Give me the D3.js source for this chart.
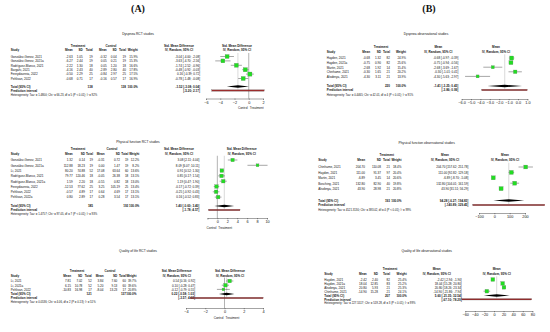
<!DOCTYPE html>
<html>
<head>
<meta charset="utf-8">
<script src="https://cdn.jsdelivr.net/npm/d3@7"></script>
<style>
body { margin: 0; background: #fff; }
svg text { font-family: "Liberation Sans", Arial, sans-serif; fill: #111; }
</style>
</head>
<body>
<div id="chart"></div>
<script>
/* global d3 */

// ---- Dyspnea RCT studies (A, top)
const dysRctStudy = ['González-Genez, 2021', 'González-Genez, 2021a', 'Rodríguez-Blanco, 2021', 'Bargahi, 2021', 'Fereydounnia, 2022', 'Pehlivan, 2022']
const dysRctTrtMean = [-2.63, -6.27, -2.22, -4.16, -0.50, -0.68]
const dysRctTrtSd = [1.05, 2.44, 1.30, 2.43, 2.29, 0.71]
const dysRctTrtN = [19, 19, 18, 40, 25, 17]
const dysRctCtlMean = [-0.32, 0.05, 0.05, -2.89, -0.84, -0.16]
const dysRctCtlSd = [0.04, 0.21, 1.20, 2.80, 2.97, 0.57]
const dysRctCtlN = [19, 19, 18, 40, 25, 17]
const dysRctWeight = [15.9, 15.3, 16.6, 17.8, 17.5, 16.9]
const dysRctEst = [-3.04, -3.63, -1.74, -0.48, 0.16, -0.78]
const dysRctLo = [-4.00, -4.70, -2.52, -0.92, -0.39, -1.48]
const dysRctHi = [-2.08, -2.56, -0.96, -0.03, 0.72, -0.08]
const dysRctTotal = [-1.52, -3.08, 0.04]
const dysRctPred = [-5.20, 2.17]
const dysRctHet = 'Heterogeneity: Tau² = 1.4800; Chi² = 66.23, df = 5 (P < 0.01); I² = 92%'
const dysRctTicks = [-6, -4, -2, 0, 2]

// ---- Physical function RCT studies (A, middle)
const pfRctStudy = ['González-Genez, 2021', 'González-Genez, 2021a', 'Li, 2021', 'Rodríguez-Blanco, 2021', 'Rodríguez-Blanco, 2021a', 'Fereydounnia, 2022', 'Pehlivan, 2022', 'Pehlivan, 2022a']
const pfRctTrtMean = [1.32, 112.88, 80.20, 79.77, 1.59, -12.53, -0.57, 0.80]
const pfRctTrtSd = [0.14, 18.23, 74.88, 120.46, 2.20, 77.62, 4.89, 2.89]
const pfRctTrtN = [19, 19, 52, 18, 18, 25, 17, 17]
const pfRctCtlMean = [-0.31, 0.00, 17.08, -0.05, -0.55, 3.25, 0.64, 0.28]
const pfRctCtlSd = [0.72, 1.47, 63.64, 26.38, 0.82, 105.19, 4.69, 3.54]
const pfRctCtlN = [19, 19, 60, 18, 18, 25, 17, 17]
const pfRctWeight = [12.2, 8.2, 13.6, 13.1, 13.0, 13.4, 13.1, 13.1]
const pfRctEst = [3.08, 8.09, 0.91, 0.85, 1.19, -0.17, -0.25, 0.16]
const pfRctLo = [2.11, 6.07, 0.52, 0.17, 0.47, -0.72, -0.92, -0.52]
const pfRctHi = [4.04, 10.11, 1.30, 1.54, 1.90, 0.39, 0.43, 0.83]
const pfRctTotal = [1.40, -0.60, 3.40]
const pfRctPred = [-1.78, 4.57]
const pfRctHet = 'Heterogeneity: Tau² = 1.4757; Chi² = 97.05, df = 7 (P < 0.01); I² = 93%'
const pfRctTicks = [-2, 0, 2, 4, 6, 8, 10]

// ---- Quality of life RCT studies (A, bottom)
const qolRctStudy = ['Li, 2021', 'Li, 2021a', 'Pehlivan, 2022']
const qolRctTrtMean = [7.81, 6.15, -10.83]
const qolRctTrtSd = [7.02, 10.78, 16.98]
const qolRctTrtN = [52, 52, 17]
const qolRctCtlMean = [3.84, 5.20, -8.04]
const qolRctCtlSd = [7.60, 9.13, 13.23]
const qolRctCtlN = [60, 60, 17]
const qolRctWeight = [39.7, 39.6, 20.8]
const qolRctEst = [0.54, 0.10, -0.12]
const qolRctLo = [0.16, -0.28, -0.79]
const qolRctHi = [0.92, 0.47, 0.55]
const qolRctTotal = [0.22, -0.58, 1.03]
const qolRctPred = [-3.57, 4.02]
const qolRctHet = 'Heterogeneity: Tau² = 0.0536; Chi² = 4.06, df = 2 (P = 0.13); I² = 51%'
const qolRctTicks = [-4, -2, 0, 2, 4]

// ---- Dyspnea observational studies (B, top)
const dysObsStudy = ['Hayden, 2021', 'Hayden, 2021a', 'Martin, 2021', 'Chinhame, 2021', 'Alsobnya, 2021']
const dysObsMean = [-0.68, -0.75, -2.68, -0.30, -4.30]
const dysObsSd = [1.32, 0.90, 1.92, 1.65, 3.11]
const dysObsN = [82, 82, 14, 21, 21]
const dysObsWeight = [24.9, 25.6, 15.4, 20.2, 13.9]
const dysObsLo = [-0.97, -0.94, -3.69, -1.01, -5.63]
const dysObsHi = [-0.39, -0.56, -1.67, 0.41, -2.97]
const dysObsTotal = [-1.41, -3.25, 0.43]
const dysObsPred = [-3.86, 0.99]
const dysObsHet = 'Heterogeneity: Tau² = 0.4465; Chi² = 42.01, df = 4 (P < 0.01); I² = 91%'
const dysObsTicks = [-6, -5, -4, -3, -2, -1, 0, 1]

// ---- Physical function observational studies (B, middle)
const pfObsStudy = ['Chinhame, 2021', 'Hayden, 2021', 'Martin, 2021', 'Bosching, 2021', 'Alsobnya, 2021']
const pfObsMean = [204.70, 111.00, -6.89, 132.80, 43.90]
const pfObsSd = [110.08, 91.37, 3.45, 82.90, 28.98]
const pfObsN = [21, 97, 14, 40, 21]
const pfObsWeight = [18.4, 20.4, 20.6, 19.8, 20.8]
const pfObsLo = [157.62, 92.82, -8.70, 104.01, 31.51]
const pfObsHi = [251.78, 129.18, -5.08, 161.59, 56.29]
const pfObsTotal = [94.28, -6.27, 194.83]
const pfObsPred = [-140.89, 329.45]
const pfObsHet = 'Heterogeneity: Tau² = 4521.3130; Chi² = 383.02, df = 4 (P < 0.01); I² = 99%'
const pfObsTicks = [-100, 0, 100, 200]

// ---- Quality of life observational studies (B, bottom)
const qolObsStudy = ['Hayden, 2021', 'Hayden, 2021a', 'Alsobnya, 2021', 'Chinhame, 2021']
const qolObsMean = [-2.42, 18.04, 20.80, -14.90]
const qolObsSd = [2.40, 12.85, 5.93, 15.28]
const qolObsN = [82, 83, 21, 21]
const qolObsWeight = [25.4, 25.2, 25.3, 24.1]
const qolObsLo = [-2.94, 15.28, 18.26, -21.86]
const qolObsHi = [-1.90, 20.80, 23.34, -7.94]
const qolObsTotal = [5.60, -21.35, 32.54]
const qolObsPred = [-67.10, 78.29]
const qolObsHet = 'Heterogeneity: Tau² = 227.5517; Chi² = 519.28, df = 3 (P < 0.01); I² = 99%'
const qolObsTicks = [-60, -40, -20, 0, 20, 40, 60, 80]

const width = 550, height = 332
const sx = 0.8   // the R output was squeezed sideways

const svg = d3.select('#chart')
  .append('svg')
  .attr('width', width)
  .attr('height', height)

const f2 = v => v.toFixed(2)
const pct = v => v.toFixed(1) + '%'
const ciText = (m, l, h) => `${f2(m)} [${f2(l)}; ${f2(h)}]`

// panel letters
svg.append('text').attr('x', 138).attr('y', 12).attr('text-anchor', 'middle')
  .style('font-family', '"Liberation Serif", "Times New Roman", serif')
  .style('font-weight', 'bold').style('font-size', '10px').text('(A)')
svg.append('text').attr('x', 429).attr('y', 12).attr('text-anchor', 'middle')
  .style('font-family', '"Liberation Serif", "Times New Roman", serif')
  .style('font-weight', 'bold').style('font-size', '10px').text('(B)')

// one forest plot with its table
let forest = (p) => {
  const g = svg.append('g')
  const n = p.est.length
  const y = d3.scalePoint().domain(d3.range(n)).range([p.rowY0, p.rowY0 + p.rowStep * (n - 1)])
  const x = d3.scaleLinear().domain(p.domain).range(p.range)
  const fs = p.fs

  const txt = (tx, ty, s, anchor, bold, size) => g.append('text')
    .attr('transform', `translate(${tx},${ty}) scale(${sx},1)`)
    .attr('text-anchor', anchor || 'start')
    .style('font-size', (size || fs) + 'px')
    .style('font-weight', bold ? 'bold' : 'normal')
    .text(s)

  txt(p.titleX, p.titleY, p.title, 'middle', false, fs + 0.3)

  p.groups.forEach(h => txt(h.x, p.hdr1Y, h.text, 'middle', true))
  txt(p.plotHdrX, p.hdr1Y, p.plotHdr, 'middle', true)
  txt(p.plotHdrX, p.hdr2Y, 'IV, Random, 95% CI', 'middle', true)

  p.cols.forEach(c => {
    txt(c.hx !== undefined ? c.hx : c.x, p.hdr2Y, c.head, c.hx !== undefined ? 'middle' : c.anchor, true)
    c.vals.forEach((v, i) => txt(c.x, y(i) + fs * 0.35, v, c.anchor))
    if (c.total !== undefined) txt(c.x, p.totY + fs * 0.35, c.total, c.anchor, true)
    if (c.pred !== undefined) txt(c.x, p.predY + fs * 0.35, c.pred, c.anchor, true)
  })
  txt(p.cols[0].x, p.hetY + fs * 0.35, p.het, 'start', false, fs - 0.3)

  // reference line and summary line
  if (p.nullLine) {
    g.append('line').attr('x1', x(0)).attr('x2', x(0))
      .attr('y1', p.rowY0 - p.rowStep * 0.8).attr('y2', p.axisY)
      .attr('stroke', '#555').attr('stroke-width', 0.45)
  }
  g.append('line').attr('x1', x(p.total[0])).attr('x2', x(p.total[0]))
    .attr('y1', p.rowY0 - p.rowStep * 0.8).attr('y2', p.predY - 1)
    .attr('stroke', '#aaa').attr('stroke-width', 0.45)

  // confidence intervals
  g.selectAll('.ci').data(d3.range(n)).enter().append('line')
    .attr('x1', i => x(p.lo[i])).attr('x2', i => x(p.hi[i]))
    .attr('y1', i => y(i)).attr('y2', i => y(i))
    .attr('stroke', '#222').attr('stroke-width', 0.4)

  // squares sized by weight
  const side = i => p.sq * Math.sqrt(p.weight[i])
  g.selectAll('.sq').data(d3.range(n)).enter().append('rect')
    .attr('x', i => x(p.est[i]) - side(i) / 2)
    .attr('y', i => y(i) - side(i) / 2)
    .attr('width', side)
    .attr('height', side)
    .attr('fill', '#22dd22').attr('stroke', '#777').attr('stroke-width', 0.25)

  // summary diamond
  const t = p.total
  g.append('path')
    .attr('d', `M${x(t[1])},${p.totY}L${x(t[0])},${p.totY - 1.2}L${x(t[2])},${p.totY}L${x(t[0])},${p.totY + 1.2}Z`)
    .attr('fill', '#000')

  // prediction interval
  g.append('rect')
    .attr('x', x(p.pred[0])).attr('y', p.predY - 0.7)
    .attr('width', x(p.pred[1]) - x(p.pred[0])).attr('height', 1.4)
    .attr('fill', '#9b2d2d').attr('stroke', '#333').attr('stroke-width', 0.2)

  // axis
  const axis = g.append('g')
    .attr('transform', `translate(0,${p.axisY})`)
    .call(d3.axisBottom(x).tickValues(p.ticks).tickSize(1.3).tickPadding(1.2))
  axis.selectAll('path, line').attr('stroke', '#333').attr('stroke-width', 0.45)
  axis.selectAll('text').style('font-size', fs + 'px').attr('fill', '#111')
    .style('font-family', '"Liberation Sans", Arial, sans-serif')
  if (p.hideTick !== undefined) {
    axis.selectAll('.tick text').filter(d => p.hideTick.includes(d)).remove()
  }

  if (p.ctlTrt) {
    txt(x(0) - 1, p.ctlY, 'Control', 'end')
    txt(x(0) + 1, p.ctlY, 'Treatment', 'start')
  }
}

// table columns for the RCT panels
let rctCols = (s, tm, ts, tn, cm, cs, cn, w, e, lo, hi, tot, pred, xs) => [
  { head: 'Study', x: xs[0], anchor: 'start', vals: s, total: 'Total (95% CI)', pred: 'Prediction interval' },
  { head: 'Mean', x: xs[1], anchor: 'end', vals: tm.map(f2) },
  { head: 'SD', x: xs[2], anchor: 'end', vals: ts.map(f2) },
  { head: 'Total', x: xs[3], anchor: 'end', vals: tn.map(String), total: String(d3.sum(tn)) },
  { head: 'Mean', x: xs[4], anchor: 'end', vals: cm.map(f2) },
  { head: 'SD', x: xs[5], anchor: 'end', vals: cs.map(f2) },
  { head: 'Total', x: xs[6], anchor: 'end', vals: cn.map(String), total: String(d3.sum(cn)) },
  { head: 'Weight', x: xs[7], anchor: 'end', vals: w.map(pct), total: '100.0%' },
  { head: 'IV, Random, 95% CI', hx: xs[9], x: xs[8], anchor: 'end', vals: e.map((v, i) => ciText(v, lo[i], hi[i])),
    total: ciText(tot[0], tot[1], tot[2]), pred: `[${f2(pred[0])}; ${f2(pred[1])}]` }
]

let obsCols = (s, m, sd, nn, w, lo, hi, tot, pred, xs) => [
  { head: 'Study', x: xs[0], anchor: 'start', vals: s, total: 'Total (95% CI)', pred: 'Prediction interval' },
  { head: 'Mean', x: xs[1], anchor: 'end', vals: m.map(f2) },
  { head: 'SD', x: xs[2], anchor: 'end', vals: sd.map(f2) },
  { head: 'Total', x: xs[3], anchor: 'end', vals: nn.map(String), total: String(d3.sum(nn)) },
  { head: 'Weight', x: xs[4], anchor: 'end', vals: w.map(pct), total: '100.0%' },
  { head: 'IV, Random, 95% CI', hx: xs[6], x: xs[5], anchor: 'end', vals: m.map((v, i) => ciText(v, lo[i], hi[i])),
    total: ciText(tot[0], tot[1], tot[2]), pred: `[${f2(pred[0])}; ${f2(pred[1])}]` }
]

forest({
  title: 'Dyspnea RCT studies', titleX: 138, titleY: 34.5, fs: 3.8,
  groups: [{ text: 'Treatment', x: 78 }, { text: 'Control', x: 111 }, { text: 'Std. Mean Difference', x: 179 }],
  plotHdr: 'Std. Mean Difference', plotHdrX: 237,
  cols: rctCols(dysRctStudy, dysRctTrtMean, dysRctTrtSd, dysRctTrtN, dysRctCtlMean, dysRctCtlSd, dysRctCtlN,
    dysRctWeight, dysRctEst, dysRctLo, dysRctHi, dysRctTotal, dysRctPred, [10.7, 72.7, 82.7, 92.7, 106.7, 116.7, 126, 137.8, 200, 179]),
  hdr1Y: 46.5, hdr2Y: 51, rowY0: 56.5, rowStep: 4.4, totY: 86.5, predY: 90.5, hetY: 94.5,
  est: dysRctEst, lo: dysRctLo, hi: dysRctHi, weight: dysRctWeight, total: dysRctTotal, pred: dysRctPred,
  domain: [-6, 2], range: [206, 263], ticks: dysRctTicks, axisY: 98.5, ctlY: 108.5, ctlTrt: true, nullLine: true,
  het: dysRctHet, sq: 1.0
})

forest({
  title: 'Physical function RCT studies', titleX: 138, titleY: 142.5, fs: 3.8,
  groups: [{ text: 'Treatment', x: 78 }, { text: 'Control', x: 112 }, { text: 'Std. Mean Difference', x: 179 }],
  plotHdr: 'Std. Mean Difference', plotHdrX: 241.7,
  cols: rctCols(pfRctStudy, pfRctTrtMean, pfRctTrtSd, pfRctTrtN, pfRctCtlMean, pfRctCtlSd, pfRctCtlN,
    pfRctWeight, pfRctEst, pfRctLo, pfRctHi, pfRctTotal, pfRctPred, [10.7, 72.7, 85, 93, 104.5, 120, 128.3, 139.3, 199.3, 179]),
  hdr1Y: 150, hdr2Y: 154.5, rowY0: 160, rowStep: 5.3, totY: 206, predY: 210, hetY: 214,
  est: pfRctEst, lo: pfRctLo, hi: pfRctHi, weight: pfRctWeight, total: pfRctTotal, pred: pfRctPred,
  domain: [-2, 10], range: [207.4, 267], ticks: pfRctTicks, hideTick: [-2], axisY: 218, ctlY: 229, ctlTrt: true, nullLine: true,
  het: pfRctHet, sq: 1.0
})

forest({
  title: 'Quality of life RCT studies', titleX: 138, titleY: 251.5, fs: 3.8,
  groups: [{ text: 'Treatment', x: 77 }, { text: 'Control', x: 110 }, { text: 'Std. Mean Difference', x: 176.7 }],
  plotHdr: 'Std. Mean Difference', plotHdrX: 230,
  cols: rctCols(qolRctStudy, qolRctTrtMean, qolRctTrtSd, qolRctTrtN, qolRctCtlMean, qolRctCtlSd, qolRctCtlN,
    qolRctWeight, qolRctEst, qolRctLo, qolRctHi, qolRctTotal, qolRctPred, [10.7, 71, 82.3, 91.7, 103.5, 117.3, 126, 136.5, 195, 176.7]),
  hdr1Y: 272, hdr2Y: 276.5, rowY0: 281, rowStep: 4.2, totY: 294, predY: 298, hetY: 302,
  est: qolRctEst, lo: qolRctLo, hi: qolRctHi, weight: qolRctWeight, total: qolRctTotal, pred: qolRctPred,
  domain: [-4, 4], range: [186, 263], ticks: qolRctTicks, axisY: 308, ctlY: 319, ctlTrt: true, nullLine: true,
  het: qolRctHet, sq: 0.58
})

forest({
  title: 'Dyspnea observational studies', titleX: 426, titleY: 34.5, fs: 3.8,
  groups: [{ text: 'Treatment', x: 381 }, { text: 'Mean', x: 438.3 }],
  plotHdr: 'Mean', plotHdrX: 496,
  cols: obsCols(dysObsStudy, dysObsMean, dysObsSd, dysObsN, dysObsWeight, dysObsLo, dysObsHi, dysObsTotal, dysObsPred,
    [326.7, 370, 381, 390, 406, 458.3, 438.3]),
  hdr1Y: 48, hdr2Y: 52.5, rowY0: 58, rowStep: 4.6, totY: 86, predY: 90, hetY: 94.5,
  est: dysObsMean, lo: dysObsLo, hi: dysObsHi, weight: dysObsWeight, total: dysObsTotal, pred: dysObsPred,
  domain: [-6, 1], range: [461.6, 527.4], ticks: dysObsTicks, axisY: 99, ctlTrt: false, nullLine: false,
  het: dysObsHet, sq: 0.8
})

forest({
  title: 'Physical function observational studies', titleX: 426.7, titleY: 143.5, fs: 3.8,
  groups: [{ text: 'Treatment', x: 386.7 }, { text: 'Mean', x: 445 }],
  plotHdr: 'Mean', plotHdrX: 505,
  cols: obsCols(pfObsStudy, pfObsMean, pfObsSd, pfObsN, pfObsWeight, pfObsLo, pfObsHi, pfObsTotal, pfObsPred,
    [318.3, 365, 381, 390, 401.5, 468.3, 445]),
  hdr1Y: 156, hdr2Y: 161, rowY0: 167, rowStep: 5.4, totY: 200.5, predY: 205, hetY: 210,
  est: pfObsMean, lo: pfObsLo, hi: pfObsHi, weight: pfObsWeight, total: pfObsTotal, pred: pfObsPred,
  domain: [-100, 200], range: [479, 525], ticks: pfObsTicks, axisY: 213, ctlTrt: false, nullLine: false,
  het: pfObsHet, sq: 0.9
})

forest({
  title: 'Quality of life observational studies', titleX: 426.7, titleY: 251.5, fs: 3.8,
  groups: [{ text: 'Treatment', x: 390 }, { text: 'Mean', x: 436.7 }],
  plotHdr: 'Mean', plotHdrX: 496.7,
  cols: obsCols(qolObsStudy, qolObsMean, qolObsSd, qolObsN, qolObsWeight, qolObsLo, qolObsHi, qolObsTotal, qolObsPred,
    [324.3, 366.7, 378, 390, 406.7, 461.7, 436.7]),
  hdr1Y: 270, hdr2Y: 274.5, rowY0: 279.5, rowStep: 3.9, totY: 295.5, predY: 299.3, hetY: 303,
  est: qolObsMean, lo: qolObsLo, hi: qolObsHi, weight: qolObsWeight, total: qolObsTotal, pred: qolObsPred,
  domain: [-60, 80], range: [465.2, 532.4], ticks: qolObsTicks, axisY: 311, ctlTrt: false, nullLine: false,
  het: qolObsHet, sq: 0.75
})
</script>
</body>
</html>
